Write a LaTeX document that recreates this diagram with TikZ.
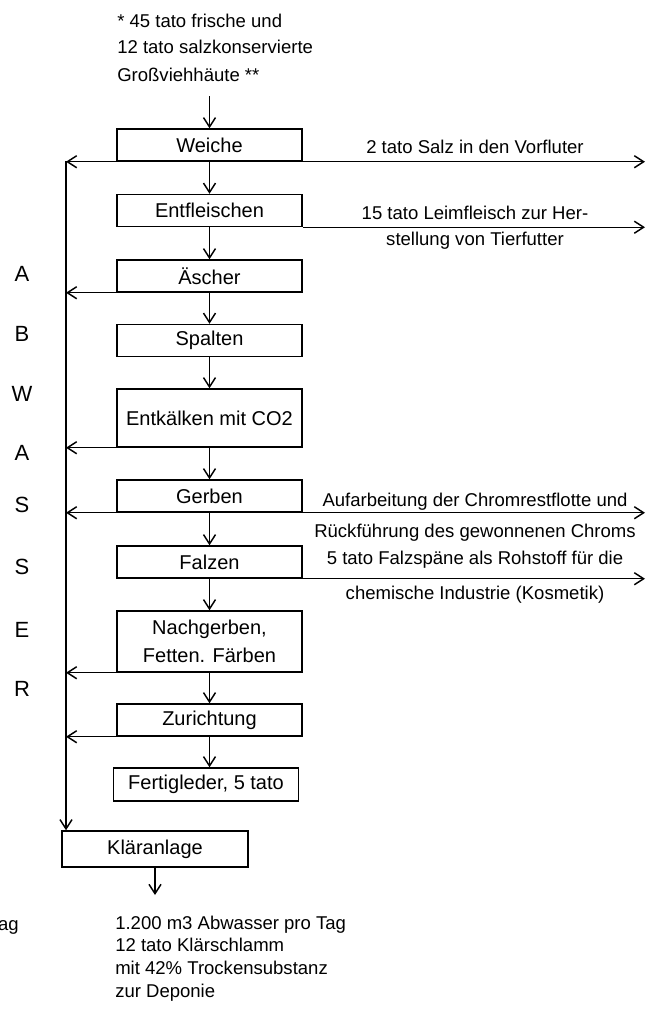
\documentclass[tikz,border=0pt]{standalone}
\usepackage{fontspec}
\setmainfont{Liberation Sans}
\usetikzlibrary{arrows.meta}
\newcommand\boxfont{\fontsize{15pt}{21pt}\selectfont}
\newcommand\lblfont{\fontsize{13.9pt}{17pt}\selectfont}
\newcommand\sidefont{\fontsize{16.5pt}{20pt}\selectfont}
\begin{document}
\begin{tikzpicture}[x=0.75pt,y=-0.75pt,
  proc/.style={draw,line width=1.1pt,inner sep=0pt,minimum width=138.75pt,
    minimum height=24pt,font=\boxfont,align=center},
  flow/.style={line width=1.1pt,-{Straight Barb[length=7pt,width=9pt]}},
  lbl/.style={inner sep=0pt,font=\lblfont,anchor=base},
  note/.style={inner sep=0pt,font=\lblfont,anchor=base west},
  side/.style={inner sep=0pt,font=\sidefont}]
\useasboundingbox (0,0) rectangle (646,1021);

% raw material
\node[note] (in1) at (117,27) {* 45 tato frische und};
\node[note] (in2) at (117,53) {12 tato salzkonservierte};
\node[note] (in3) at (117,81) {Großviehhäute **};

% process chain
\node[proc] (weiche)  at (209.5,145)   {Weiche};
\node[proc] (entfl)   at (209.5,210.5) {Entfleischen};
\node[proc] (ascher)  at (209.5,276)   {Äscher};
\node[proc] (spalten) at (209.5,340.5) {Spalten};
\node[proc,minimum height=43.5pt] (entk) at (209.5,418) {Entkälken mit CO2};
\node[proc] (gerben)  at (209.5,496)   {Gerben};
\node[proc] (falzen)  at (209.5,562)   {Falzen};
\node[proc,minimum height=45.75pt] (nachg) at (209.5,641.5) {Nachgerben,\\Fetten. Färben};
\node[proc] (zuricht) at (209.5,720)   {Zurichtung};
\node[proc,minimum height=24.75pt] (fertig) at (206,784.5) {Fertigleder, 5 tato};
\node[proc,minimum width=139.5pt,minimum height=27pt] (klaer) at (155,849) {Kläranlage};

% helper points
\coordinate (src)   at (209.5,96);
\coordinate (spine) at (66,161);
\coordinate (east)  at (645,161);
\coordinate (sink)  at (155,895);

% main flow
\draw[flow] (src) -- (weiche);
\draw[flow] (weiche) -- (entfl);
\draw[flow] (entfl) -- (ascher);
\draw[flow] (ascher) -- (spalten);
\draw[flow] (spalten) -- (entk);
\draw[flow] (entk) -- (gerben);
\draw[flow] (gerben) -- (falzen);
\draw[flow] (falzen) -- (nachg);
\draw[flow] (nachg) -- (zuricht);
\draw[flow] (zuricht.south) -- (zuricht.south |- fertig.north);
\draw[flow] (klaer) -- (sink);

% waste water collector
\draw[flow] (spine) -- (spine |- klaer.north);
\foreach \n in {weiche,ascher,entk,gerben,nachg,zuricht}
  \draw[flow] (\n.south west) -- (\n.south west -| spine);

% by-products
\foreach \n in {weiche,entfl,gerben,falzen}
  \draw[flow] (\n.south east) -- (\n.south east -| east);

\node[lbl] (l1)  at (475,153) {2 tato Salz in den Vorfluter};
\node[lbl] (l2a) at (475,219) {15 tato Leimfleisch zur Her-};
\node[lbl] (l2b) at (475,245) {stellung von Tierfutter};
\node[lbl] (l3a) at (475,506) {Aufarbeitung der Chromrestflotte und};
\node[lbl] (l3b) at (475,537) {Rückführung des gewonnenen Chroms};
\node[lbl] (l4a) at (475,564) {5 tato Falzspäne als Rohstoff für die};
\node[lbl] (l4b) at (475,599) {chemische Industrie (Kosmetik)};

% vertical caption
\foreach \c/\y [count=\i] in {A/274,B/334,W/394,A/453,S/505,S/567,E/630,R/689}
  \node[side] (side\i) at (22,\y) {\c};

% output
\node[inner sep=0pt,font=\lblfont,anchor=base east] (cut) at (19,930) {ag};
\node[note] (out1) at (115,929) {1.200 m3 Abwasser pro Tag};
\node[note] (out2) at (115,951) {12 tato Klärschlamm};
\node[note] (out3) at (115,974) {mit 42\% Trockensubstanz};
\node[note] (out4) at (115,997) {zur Deponie};
\end{tikzpicture}
\end{document}
